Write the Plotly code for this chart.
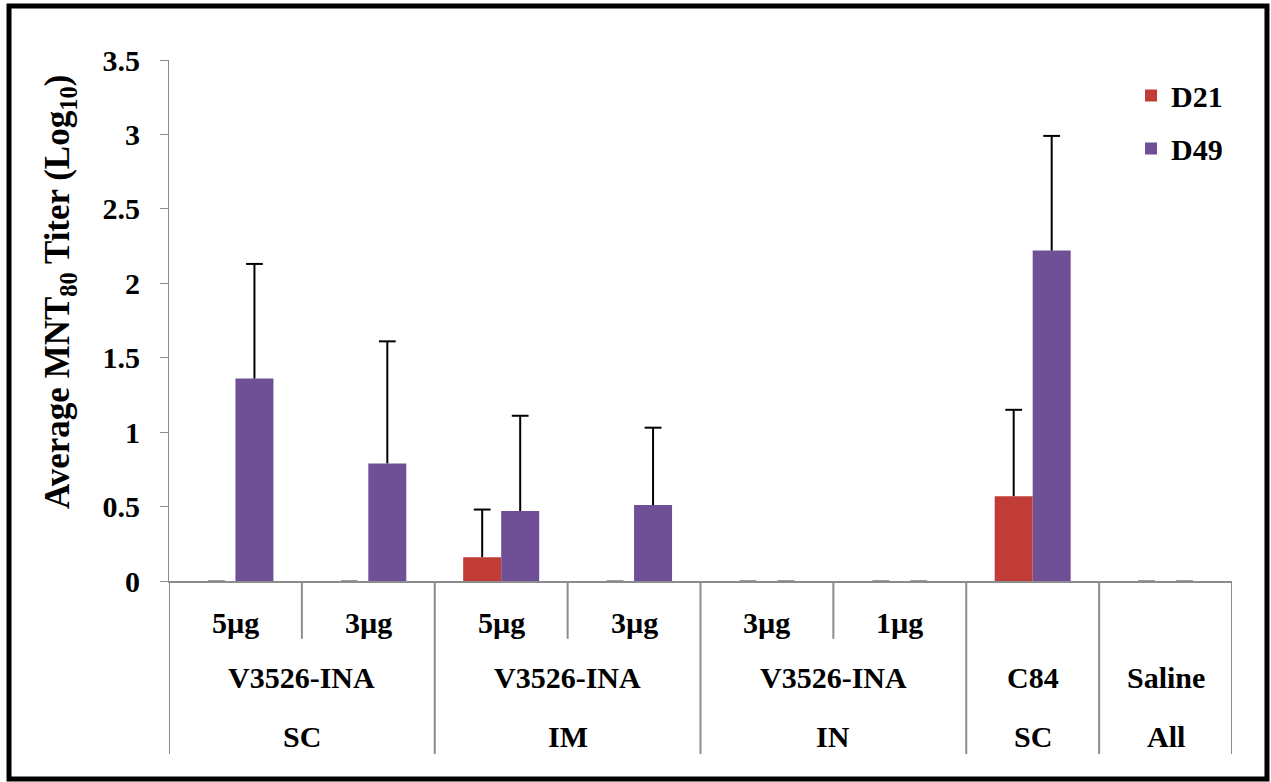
import plotly.graph_objects as go

# Group labels along the category axis (three rows)
doses = ["5µg", "3µg", "5µg", "3µg", "3µg", "1µg", "", ""]
vaccines = ["V3526-INA", "V3526-INA", "V3526-INA", "C84", "Saline"]
routes = ["SC", "IM", "IN", "SC", "All"]
# how many dose columns each vaccine/route block spans
spans = [2, 2, 2, 1, 1]

# Average MNT80 titers (log10) and upper error (SD)
d21 = [0, 0, 0.16, 0, 0, 0, 0.57, 0]
d21_err = [0, 0, 0.32, 0, 0, 0, 0.58, 0]
d49 = [1.36, 0.79, 0.47, 0.51, 0, 0, 2.22, 0]
d49_err = [0.77, 0.82, 0.64, 0.52, 0, 0, 0.77, 0]

x = list(range(len(doses)))
FONT = "Liberation Serif"
BAR_W = 0.286  # width of one bar in category units

series = [
    ("D21", d21, d21_err, "#C23C37", -BAR_W),
    ("D49", d49, d49_err, "#6F5097", 0.0),
]

fig = go.Figure()
for name, vals, errs, color, off in series:
    fig.add_trace(go.Bar(
        x=x, y=vals, name=name, legendgroup=name,
        width=BAR_W, offset=off,
        marker=dict(color=color, line=dict(width=0)),
        # stems only; caps are drawn at the upper end below
        error_y=dict(type="data", array=errs, symmetric=False,
                     arrayminus=[0] * len(vals), color="black", thickness=2, width=0),
    ))
for name, vals, errs, color, off in series:
    tops = [v + e for v, e in zip(vals, errs)]
    fig.add_trace(go.Scatter(
        x=[i + off + BAR_W / 2 for i in x],
        y=tops,
        mode="markers", showlegend=False, hoverinfo="skip", legendgroup=name,
        marker=dict(symbol="line-ew", size=12,
                    line=dict(color=["black" if t > 0 else "#9A9A9A" for t in tops], width=2)),
    ))

shapes = []
annotations = []
line_col = "#8C8C8C"

# paper positions for the label rows under the axis
Y_DOSE, Y_VAC, Y_ROUTE = -0.079, -0.186, -0.299
Y_DOSE_LINE, Y_FULL_LINE = -0.111, -0.332
lab_font = dict(family=FONT, size=30, color="black", weight="bold")

for i, d in enumerate(doses):
    if d:
        annotations.append(dict(x=i, y=Y_DOSE, xref="x", yref="paper", text=d,
                                showarrow=False, yanchor="middle", font=lab_font))

start = 0
bounds = [-0.5]
for v, r, s in zip(vaccines, routes, spans):
    center = start + (s - 1) / 2
    annotations.append(dict(x=center, y=Y_VAC, xref="x", yref="paper", text=v,
                            showarrow=False, yanchor="middle", font=lab_font))
    annotations.append(dict(x=center, y=Y_ROUTE, xref="x", yref="paper", text=r,
                            showarrow=False, yanchor="middle", font=lab_font))
    # short separator between dose columns inside a block
    for k in range(1, s):
        shapes.append(dict(type="line", xref="x", yref="paper",
                           x0=start + k - 0.5, x1=start + k - 0.5, y0=0, y1=Y_DOSE_LINE,
                           line=dict(color=line_col, width=2)))
    start += s
    bounds.append(start - 0.5)

for b in bounds:
    shapes.append(dict(type="line", xref="x", yref="paper", x0=b, x1=b, y0=0, y1=Y_FULL_LINE,
                       line=dict(color=line_col, width=2)))

# y-axis title, placed a little above the plot's vertical centre
annotations.append(dict(x=-0.1025, y=0.555, xref="paper", yref="paper",
                        text="Average MNT<sub>80</sub> Titer (Log<sub>10</sub>)",
                        textangle=-90, showarrow=False, xanchor="center", yanchor="middle",
                        font=dict(family=FONT, size=35, color="black", weight="bold")))

# outer frame around the whole chart
shapes.append(dict(type="rect", xref="paper", yref="paper",
                   x0=-0.1505, x1=1.0329, y0=-0.380, y1=1.1036,
                   line=dict(color="black", width=5), layer="above"))

fig.update_layout(
    width=1271, height=782,
    margin=dict(l=169, r=39, t=60, b=201),
    paper_bgcolor="white", plot_bgcolor="white",
    barmode="overlay",
    font=dict(family=FONT, size=30, color="black", weight="bold"),
    showlegend=True,
    legend=dict(x=0.905, y=0.982, xanchor="left", yanchor="top",
                font=lab_font, traceorder="grouped", tracegroupgap=11,
                bgcolor="rgba(0,0,0,0)"),
    xaxis=dict(range=[-0.5, 7.5], showticklabels=False, showgrid=False, zeroline=False,
               showline=True, linecolor=line_col, linewidth=2, ticks=""),
    yaxis=dict(range=[0, 3.5], dtick=0.5, tick0=0, showgrid=False, zeroline=False,
               showline=True, linecolor=line_col, linewidth=1,
               ticks="outside", ticklen=8, tickcolor=line_col, ticklabelstandoff=14,
               tickfont=lab_font),
    shapes=shapes,
    annotations=annotations,
)

fig.write_html("out.html")
